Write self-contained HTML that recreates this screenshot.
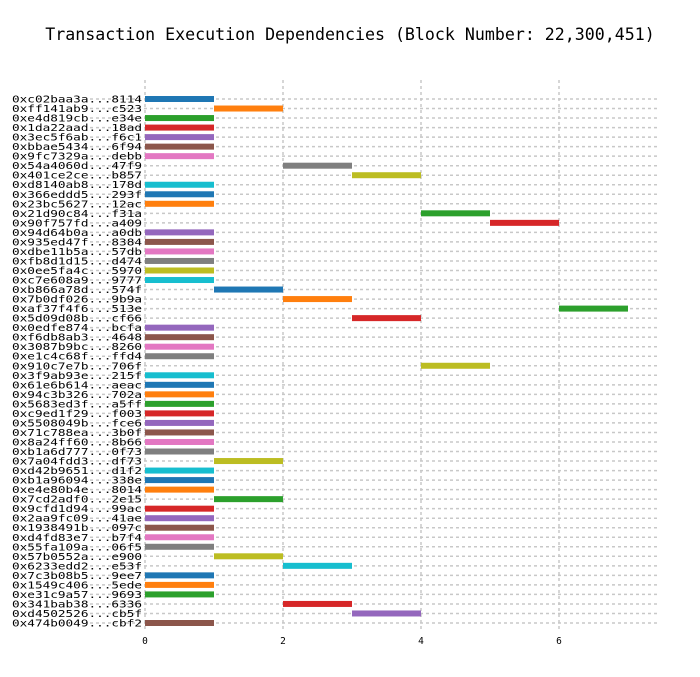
<!DOCTYPE html>
<html><head><meta charset="utf-8"><style>
body{margin:0;background:#fff;width:700px;height:672px;overflow:hidden}
svg text{font-family:"DejaVu Sans Mono","Liberation Mono",monospace}
</style></head><body>
<svg id="c" width="700" height="672">
<text x="350" y="40" text-anchor="middle" font-size="16.6" fill="#000">Transaction Execution Dependencies (Block Number: 22,300,451)</text>
<g id="grid"></g><g id="bars"></g><g id="ylab"></g><g id="xlab"></g>
</svg>
<script>
const txLabels=["0xc02baa3a...8114","0xff141ab9...c523","0xe4d819cb...e34e","0x1da22aad...18ad","0x3ec5f6ab...f6c1","0xbbae5434...6f94","0x9fc7329a...debb","0x54a4060d...47f9","0x401ce2ce...b857","0xd8140ab8...178d","0x366eddd5...293f","0x23bc5627...12ac","0x21d90c84...f31a","0x90f757fd...a409","0x94d64b0a...a0db","0x935ed47f...8384","0xdbe11b5a...57db","0xfb8d1d15...d474","0x0ee5fa4c...5970","0xc7e608a9...9777","0xb866a78d...574f","0x7b0df026...9b9a","0xaf37f4f6...513e","0x5d09d08b...cf66","0x0edfe874...bcfa","0xf6db8ab3...4648","0x3087b9bc...8260","0xe1c4c68f...ffd4","0x910c7e7b...706f","0x3f9ab93e...215f","0x61e6b614...aeac","0x94c3b326...702a","0x5683ed3f...a5ff","0xc9ed1f29...f003","0x5508049b...fce6","0x71c788ea...3b0f","0x8a24ff60...8b66","0xb1a6d777...0f73","0x7a04fdd3...df73","0xd42b9651...d1f2","0xb1a96094...338e","0xe4e80b4e...8014","0x7cd2adf0...2e15","0x9cfd1d94...99ac","0x2aa9fc09...41ae","0x1938491b...097c","0xd4fd83e7...b7f4","0x55fa109a...06f5","0x57b0552a...e900","0x6233edd2...e53f","0x7c3b08b5...9ee7","0x1549c406...5ede","0xe31c9a57...9693","0x341bab38...6336","0xd4502526...cb5f","0x474b0049...cbf2"];
const startTimes=[0,1,0,0,0,0,0,2,3,0,0,0,4,5,0,0,0,0,0,0,1,2,6,3,0,0,0,0,4,0,0,0,0,0,0,0,0,0,1,0,0,0,1,0,0,0,0,0,1,2,0,0,0,2,3,0];
const durations=[1,1,1,1,1,1,1,1,1,1,1,1,1,1,1,1,1,1,1,1,1,1,1,1,1,1,1,1,1,1,1,1,1,1,1,1,1,1,1,1,1,1,1,1,1,1,1,1,1,1,1,1,1,1,1,1,1];
const xTicks=[0,2,4,6];
const colors=["#1f77b4","#ff7f0e","#2ca02c","#d62728","#9467bd","#8c564b","#e377c2","#7f7f7f","#bcbd22","#17becf"];
const NS="http://www.w3.org/2000/svg";
const X0=145,PX=69,Y0=99,Y1=623,XL=90,XR=658;
const xs=v=>X0+v*PX;
const ys=i=>Y0+i*(Y1-Y0)/(txLabels.length-1);
function mk(t,a,p){const e=document.createElementNS(NS,t);for(const k in a)e.setAttribute(k,a[k]);p.appendChild(e);return e;}
const grid=document.getElementById('grid'),bars=document.getElementById('bars'),yl=document.getElementById('ylab'),xl=document.getElementById('xlab');
xTicks.forEach(t=>{
 const l=mk('line',{x1:xs(t),x2:xs(t),y1:80,y2:632,stroke:'#c8c8c8','stroke-width':1.5,'stroke-dasharray':'3,3'},grid);
 
 
 const tx=mk('text',{x:xs(t),y:644,'font-size':9.5,'text-anchor':'middle',fill:'#000'},xl);tx.textContent=t;
 
 
});
txLabels.forEach((lab,i)=>{
 const y=ys(i);
 const g=mk('line',{x1:XL,x2:XR,y1:y,y2:y,stroke:'#c8c8c8','stroke-width':1.5,'stroke-dasharray':'3,3'},grid);
 
 
 const t=mk('text',{x:12,y:y+3.5,'font-size':10,textLength:130,lengthAdjust:'spacingAndGlyphs',fill:'#000'},yl);t.textContent=lab;
 
 
 const r=mk('rect',{x:xs(startTimes[i]),y:y-3,width:durations[i]*PX,height:6,fill:colors[i%10]},bars);
 
 
});
</script>
</body></html>
